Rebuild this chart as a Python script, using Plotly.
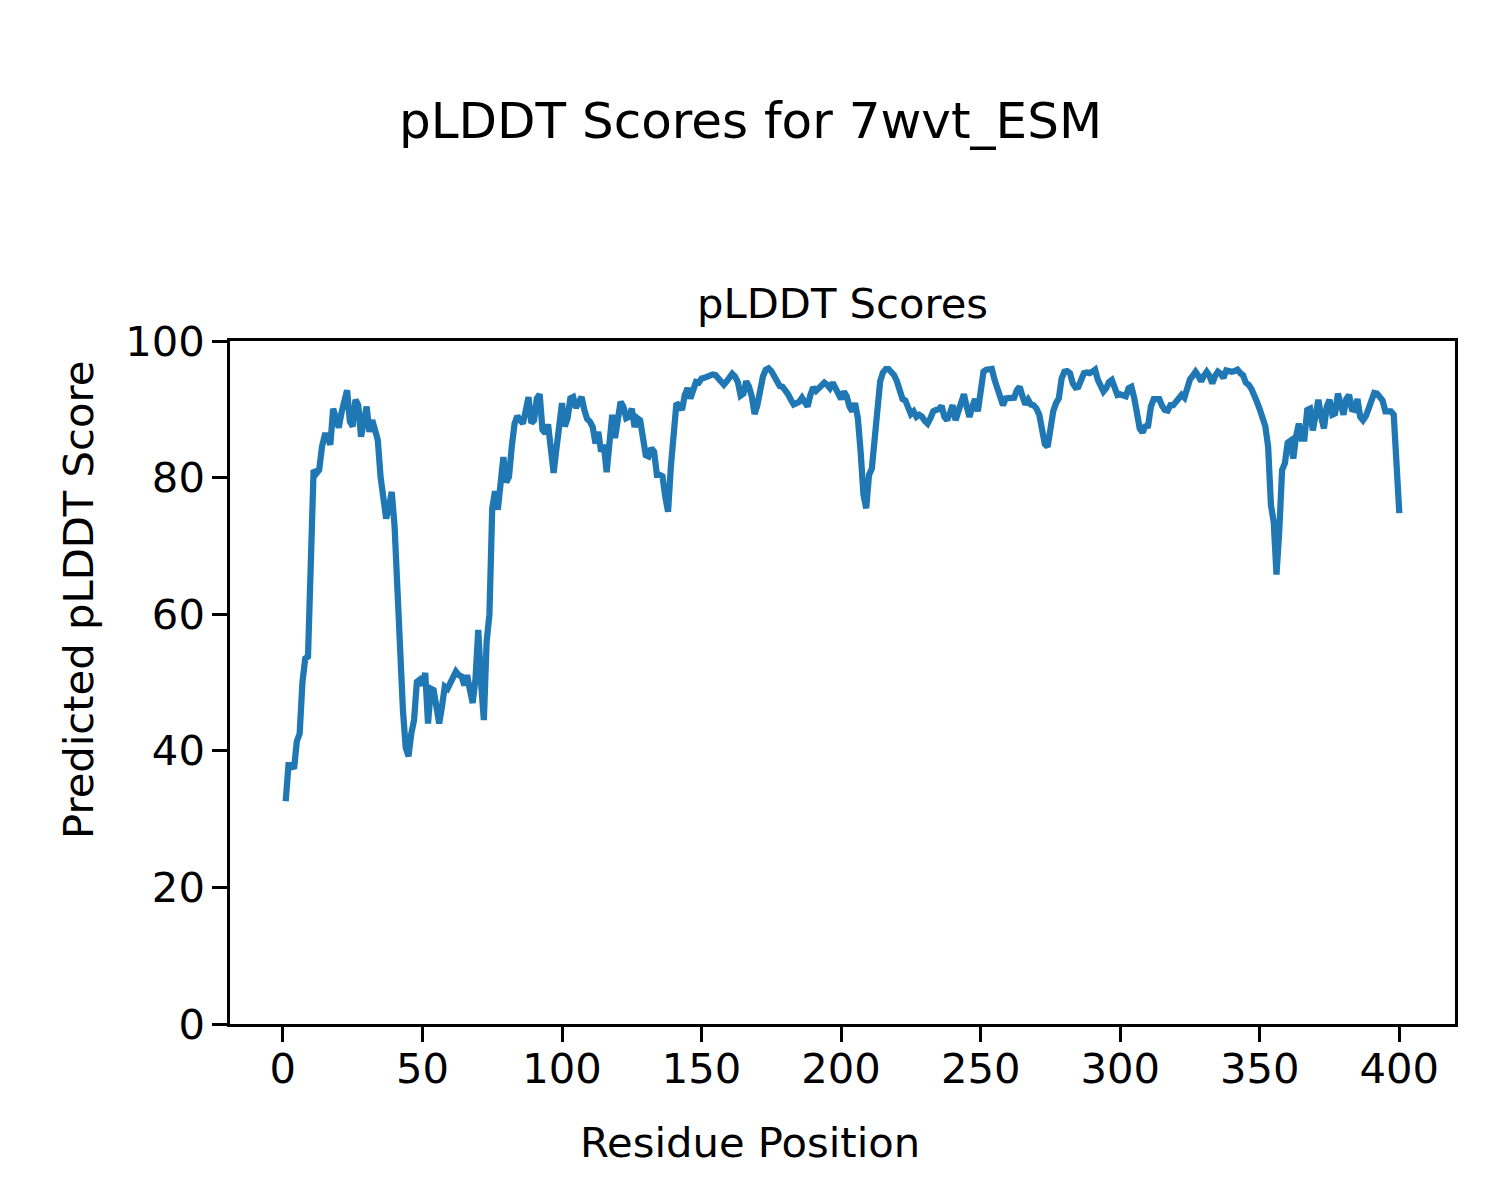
import plotly.graph_objects as go

# Residue positions and pLDDT scores
residues = list(range(1, 401))
plddt = [
    32.6, 37.9, 37.9, 37.4, 41.4, 42.5, 50.0, 53.5, 53.8, 72.5,
    81.1, 80.6, 81.1, 84.5, 86.2, 86.2, 84.8, 90.1, 89.0, 87.3,
    89.5, 91.0, 92.8, 88.2, 87.5, 91.4, 90.6, 86.0, 87.8, 90.4,
    86.7, 88.4, 87.0, 85.5, 80.1, 77.2, 74.0, 75.7, 77.9, 73.0,
    63.0, 53.0, 46.0, 40.5, 39.2, 42.5, 44.5, 50.1, 50.4, 49.6,
    51.4, 44.0, 49.1, 48.9, 45.5, 44.0, 46.5, 49.4, 49.1, 50.1,
    51.1, 51.6, 51.1, 50.9, 49.6, 51.1, 48.9, 47.0, 50.5, 57.7,
    50.0, 44.5, 56.0, 60.0, 75.5, 78.0, 75.3, 79.5, 83.0, 79.3,
    80.1, 84.5, 87.9, 89.0, 88.6, 87.9, 89.8, 91.8, 88.0, 88.4,
    91.6, 92.2, 87.0, 86.5, 87.8, 84.0, 80.7, 84.2, 87.5, 90.9,
    87.5, 88.7, 91.6, 91.8, 90.2, 91.1, 91.8, 89.9, 88.6, 88.2,
    87.4, 85.0, 86.7, 83.8, 84.8, 80.8, 84.5, 89.2, 85.8, 88.7,
    91.1, 90.4, 88.7, 88.9, 90.1, 87.4, 88.7, 88.4, 86.2, 83.3,
    83.1, 84.3, 83.8, 80.4, 80.4, 80.2, 77.2, 75.0, 81.6, 87.4,
    90.9, 90.6, 89.9, 92.1, 93.1, 91.6, 92.8, 94.0, 93.9, 94.5,
    94.6, 94.8, 95.0, 95.1, 95.0, 94.6, 94.1, 93.6, 94.1, 94.8,
    95.2, 94.8, 94.0, 92.0, 92.3, 94.1, 93.3, 91.9, 89.3, 90.6,
    93.1, 94.8, 95.8, 96.0, 95.6, 94.8, 94.0, 93.4, 93.3, 92.8,
    92.2, 91.4, 90.7, 90.9, 91.1, 91.7, 90.9, 90.4, 92.1, 93.2,
    92.7, 93.1, 93.8, 93.9, 93.6, 93.1, 93.9, 93.1, 92.6, 91.5,
    92.6, 91.9, 90.4, 89.7, 90.9, 88.7, 83.8, 77.5, 75.5, 80.4,
    81.3, 85.7, 90.1, 94.1, 95.4, 95.9, 95.9, 95.5, 95.0, 94.1,
    92.7, 91.5, 91.3, 90.1, 89.3, 89.7, 88.9, 89.2, 88.9, 88.3,
    87.9, 88.7, 89.7, 89.9, 90.0, 90.5, 88.9, 88.4, 89.7, 90.6,
    88.4, 89.8, 91.4, 92.2, 90.4, 88.9, 90.4, 91.5, 89.7, 92.8,
    95.5, 95.8, 95.8, 95.9, 94.3, 93.1, 91.4, 90.6, 91.6, 91.7,
    91.7, 91.7, 92.8, 93.3, 91.9, 90.7, 91.4, 90.7, 90.6, 90.1,
    89.2, 87.2, 84.9, 84.5, 87.2, 89.7, 90.9, 91.6, 94.5, 95.5,
    95.6, 95.3, 93.8, 93.2, 93.3, 94.3, 95.3, 95.4, 95.3, 95.5,
    95.8, 94.3, 93.1, 92.6, 93.1, 94.0, 94.3, 93.1, 92.1, 92.2,
    92.1, 91.9, 93.1, 93.3, 91.7, 89.2, 87.2, 86.6, 87.5, 87.6,
    90.4, 91.5, 91.6, 91.5, 90.5, 89.9, 89.8, 90.6, 90.6, 91.1,
    91.7, 92.1, 91.7, 93.3, 94.4, 94.9, 95.5, 94.9, 94.1, 94.9,
    95.5, 94.9, 93.8, 94.9, 95.5, 95.2, 94.6, 95.7, 95.5, 95.5,
    95.6, 95.8, 95.3, 95.0, 93.9, 93.6, 93.0, 92.2, 91.1, 90.0,
    88.5, 87.5, 84.5, 76.0, 73.5, 65.8, 72.3, 81.1, 82.1, 85.1,
    85.4, 82.8, 86.0, 87.9, 85.7, 85.7, 89.9, 90.1, 86.9, 89.9,
    91.4, 88.9, 87.2, 90.4, 91.4, 89.2, 89.4, 92.3, 90.6, 89.2,
    91.5, 92.1, 90.0, 89.9, 91.5, 88.9, 88.4, 89.0, 90.1, 91.3,
    92.4, 92.3, 91.7, 91.3, 89.7, 89.7, 89.7, 89.2, 81.0, 74.8,
]

x_ticks = [0, 50, 100, 150, 200, 250, 300, 350, 400]
y_ticks = [0, 20, 40, 60, 80, 100]

suptitle = "pLDDT Scores for 7wvt_ESM"
axes_title = "pLDDT Scores"
x_label = "Residue Position"
y_label = "Predicted pLDDT Score"

FONT = "DejaVu Sans"
OFF = 8  # page body margin in the browser
W, H = 1500, 1200
# target plot area on screen: x 230..1455, y 341..1024
L = 230 - OFF
T = 341 - OFF
R = (W + OFF) - 1455
B = (H + OFF) - 1024
pw, ph = W - L - R, H - T - B

def sx(px):  # screen px -> paper x
    return (px - OFF - L) / pw

def sy(py):  # screen px -> paper y
    return (H - B - (py - OFF)) / ph

fig = go.Figure()
fig.add_trace(go.Scatter(
    x=residues, y=plddt, mode="lines",
    line=dict(color="#1f77b4", width=6.25),
    showlegend=False, hoverinfo="skip",
))

axis_common = dict(
    showline=True, linecolor="black", linewidth=3.3, mirror=True,
    ticks="outside", ticklen=14.6, tickwidth=3.3, tickcolor="black",
    showgrid=False, zeroline=False,
    tickfont=dict(family=FONT, size=41.7, color="black"),
)

fig.update_xaxes(range=[-18.95, 419.95], tickmode="array", tickvals=x_ticks,
                 ticktext=[str(v) for v in x_ticks], ticklabelstandoff=-9,
                 **axis_common)
fig.update_yaxes(range=[0, 100], tickmode="array", tickvals=y_ticks,
                 ticktext=[str(v) for v in y_ticks], ticklabelstandoff=-1,
                 **axis_common)

annotations = [
    dict(text=suptitle, x=sx(750), y=sy(121),
         font=dict(family=FONT, size=50, color="black")),
    dict(text=axes_title, x=0.5, y=sy(303),
         font=dict(family=FONT, size=41.7, color="black")),
    dict(text=x_label, x=sx(750), y=sy(1142),
         font=dict(family=FONT, size=41.7, color="black")),
    dict(text=y_label, x=sx(78), y=sy(600), textangle=-90,
         font=dict(family=FONT, size=41.7, color="black")),
]
for a in annotations:
    a.update(xref="paper", yref="paper", showarrow=False,
             xanchor="center", yanchor="middle")

fig.update_layout(
    width=W, height=H,
    margin=dict(l=L, r=R, t=T, b=B, pad=0),
    paper_bgcolor="white", plot_bgcolor="white",
    font=dict(family=FONT, color="black"),
    annotations=annotations,
)

fig.write_html("out.html")
